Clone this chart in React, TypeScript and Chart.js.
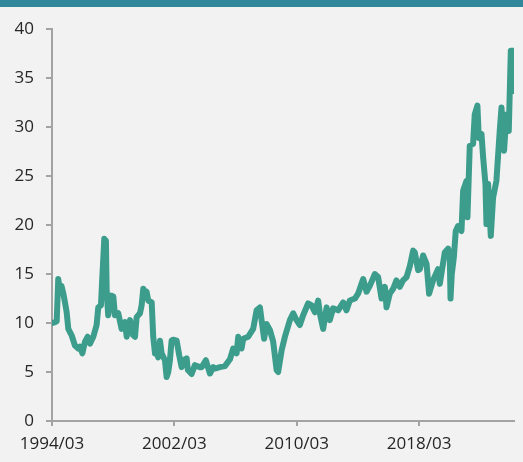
import React, { useEffect, useRef } from "react";
import { Chart, registerables } from "chart.js";

Chart.register(...registerables);

// months since 1994/03
const monthOffsets = [
  0, 2.4, 3.7, 4.9, 6.3, 7.4, 8.9, 10.2, 11.5, 12.8, 15.4, 18.0, 20.6, 22, 23.8, 25.9, 28.0, 29.8, 32.4, 35.0,
  36.3, 38.4, 39.4, 40.4, 41.0, 42.3, 42.9, 44.1, 46.3, 48.1, 49.4, 52.0, 54.6, 57.2, 58.6, 61.2, 63.7, 65.1, 66.4, 69.0,
  70.3, 71.6, 72.9, 74.2, 75.5, 78.2, 79.4, 80.8, 82.1, 83.3, 84.7, 86.0, 88.6, 89.9, 91.2, 92.5, 93.8, 95.1, 97.8, 99.8,
  101.7, 103.0, 105.6, 106.6, 109.5, 112.1, 116.0, 117.4, 120.7, 123.9, 126.5, 127.8, 131.7, 135.6, 139.6, 142.1, 144.8, 146.1, 148.7, 150.0,
  153.9, 157.8, 160.5, 163.1, 164.4, 166.4, 168.3, 170.9, 173.5, 176.2, 177.4, 180.1, 182.7, 186.6, 189.2, 191.8, 194.4, 197.0, 200.9, 203.6,
  206.2, 208.8, 210.1, 212.7, 215.4, 217.9, 220.5, 224.5, 228.4, 231.0, 233.6, 237.6, 240.1, 244.1, 246.7, 249.3, 253.2, 255.8, 258.5, 261.1,
  262.4, 265.0, 267.6, 270.2, 272.8, 275.4, 278.1, 280.7, 283.3, 284.6, 287.2, 288.5, 291.1, 293.8, 295.8, 298.9, 302.8, 304.2, 308.1, 310.7,
  312.0, 312.6, 313.6, 315.2, 316.7, 318.5, 321.2, 322.5, 325.1, 325.9, 327.7, 330.3, 331.6, 333.7, 334.8, 336.9, 338.2, 340.0, 340.8, 342.1,
  344.2, 346.0, 348.6, 351.2, 352.6, 354.6, 356.5, 358.3, 359.9, 361.7, 362.4,
];

const values = [
  10.0, 10.1, 10.2, 14.5, 13.2, 13.8, 13.0, 12.1, 11.1, 9.4, 8.75, 7.7, 7.4, 7.6, 6.9, 8.1, 8.6, 7.9, 8.6, 9.8,
  11.6, 11.8, 14.5, 17.0, 18.6, 18.4, 13.2, 10.8, 12.8, 12.7, 10.8, 11.0, 9.4, 10.1, 8.6, 10.3, 8.75, 8.6, 10.6, 11.0,
  11.8, 13.5, 13.0, 13.2, 12.3, 12.1, 8.6, 6.9, 7.0, 6.5, 8.2, 6.9, 6.2, 4.5, 5.0, 6.2, 8.2, 8.3, 8.2, 6.7,
  5.5, 6.2, 6.4, 5.2, 4.8, 5.7, 5.5, 5.5, 6.2, 4.85, 5.5, 5.35, 5.5, 5.6, 6.3, 7.4, 6.9, 8.6, 7.4, 8.4,
  8.6, 9.4, 11.3, 11.6, 10.3, 8.4, 9.9, 9.3, 8.1, 5.2, 5.0, 7.2, 8.6, 10.3, 11.0, 10.3, 9.8, 10.8, 12.0, 11.8,
  11.1, 12.3, 11.0, 9.4, 11.6, 10.3, 11.5, 11.3, 12.1, 11.3, 12.3, 12.5, 13.0, 14.5, 13.2, 13.8, 15.0, 14.7, 12.5, 13.7,
  11.6, 13.0, 13.5, 14.35, 13.7, 14.35, 14.7, 15.8, 17.4, 17.2, 15.4, 15.5, 16.9, 16.05, 13.0, 14.35, 15.5, 14.0, 17.2, 17.6,
  17.1, 12.5, 15.0, 16.7, 19.4, 19.9, 19.4, 23.5, 24.5, 20.8, 28.1, 28.3, 31.3, 32.2, 28.9, 29.3, 26.9, 24.2, 20.1, 24.2,
  18.9, 22.8, 24.5, 29.6, 32.0, 27.6, 31.3, 29.6, 37.8, 37.8, 33.7,
];

const tickLabels = ["1994/03", "2002/03", "2010/03", "2018/03"];
const yMin = 0;
const yMax = 40;
const yStep = 5;
const xTickStep = 96;

export default function App() {
  const canvasRef = useRef<HTMLCanvasElement | null>(null);

  useEffect(() => {
    const ctx = canvasRef.current;
    if (!ctx) return;
    const axisColor = "#a3a3a3";
    const textColor = "#262626";
    const font = { family: "'Open Sans', 'Noto Sans', sans-serif", size: 17 };
    const chart = new Chart(ctx, {
      type: "line",
      data: {
        datasets: [
          {
            data: monthOffsets.map((m, i) => ({ x: m, y: values[i] })),
            borderColor: "#3c9d8c",
            backgroundColor: "#3c9d8c",
            borderWidth: 6,
            borderJoinStyle: "round",
            borderCapStyle: "round",
            pointRadius: 0,
            tension: 0,
            fill: false,
          },
        ],
      },
      options: {
        animation: false,
        responsive: false,
        maintainAspectRatio: false,
        layout: { padding: { top: 21, right: 9, left: 0, bottom: 0 } },
        plugins: { legend: { display: false }, tooltip: { enabled: false } },
        scales: {
          x: {
            type: "linear",
            min: 0,
            max: monthOffsets[monthOffsets.length - 1],
            border: { display: true, color: axisColor, width: 2 },
            grid: { drawOnChartArea: false, drawTicks: true, tickLength: 5, color: axisColor, lineWidth: 2 },
            ticks: {
              stepSize: xTickStep,
              includeBounds: false,
              autoSkip: false,
              maxRotation: 0,
              padding: 8,
              color: textColor,
              font,
              callback: (v: any) => {
                const idx = Math.round(Number(v) / xTickStep);
                return Number(v) % xTickStep === 0 ? tickLabels[idx] ?? "" : "";
              },
            },
            afterBuildTicks: (scale: any) => {
              scale.ticks = scale.ticks.filter((t: any) => t.value % xTickStep === 0 && t.value / xTickStep < tickLabels.length);
            },
            afterFit: (scale: any) => {
              scale.height = 41;
            },
          },
          y: {
            min: yMin,
            max: yMax,
            border: { display: true, color: axisColor, width: 2 },
            grid: { drawOnChartArea: false, drawTicks: true, tickLength: 6, color: axisColor, lineWidth: 2 },
            ticks: { stepSize: yStep, padding: 12, color: textColor, font },
            afterFit: (scale: any) => {
              scale.width = 52;
            },
          },
        },
      },
    });
    return () => chart.destroy();
  }, []);

  return (
    <div style={{ width: 523, height: 462, background: "#f2f2f2", position: "relative" }}>
      <style>{`body{margin:0;background:#f2f2f2}`}</style>
      <div style={{ height: 7, background: "#31889b" }} />
      <canvas ref={canvasRef} width={523} height={455} style={{ display: "block" }} />
    </div>
  );
}
